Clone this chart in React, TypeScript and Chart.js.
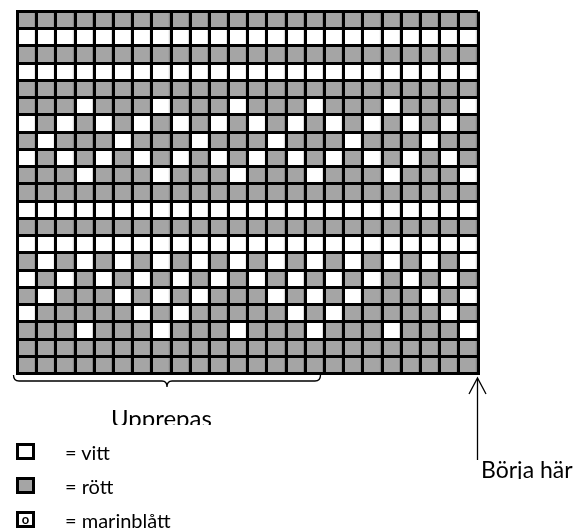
import React, { useEffect, useRef } from "react";
import { Chart, registerables } from "chart.js";

Chart.register(...registerables);

// 24 stitches per row
const columns = [
  "1", "2", "3", "4", "5", "6", "7", "8", "9", "10", "11", "12",
  "13", "14", "15", "16", "17", "18", "19", "20", "21", "22", "23", "24",
];

// Rows from top to bottom. W = vitt, G = rött (grey in the chart)
const rowPatterns = [
  "GGGGGGGGGGGGGGGGGGGGGGGG",
  "WWWWWWWWWWWWWWWWWWWWWWWW",
  "GGGGGGGGGGGGGGGGGGGGGGGG",
  "WWWWWWWWWWWWWWWWWWWWWWWW",
  "GGGGGGGGGGGGGGGGGGGGGGGG",
  "GGGWGGGWGGGWGGGWGGGWGGGW",
  "WGWGWGWGWGWGWGWGWGWGWGWG",
  "GWGGGWGGGWGGGWGGGWGGGWGG",
  "WGWGWGWGWGWGWGWGWGWGWGWG",
  "GGGWGGGWGGGWGGGWGGGWGGGW",
  "GGGGGGGGGGGGGGGGGGGGGGGG",
  "WWWWWWWWWWWWWWWWWWWWWWWW",
  "GGGGGGGGGGGGGGGGGGGGGGGG",
  "WWWWWWWWWWWWWWWWWWWWWWWW",
  "GWGWGWGWGWGWGWGWGWGWGWGW",
  "WGWGWGWGWGWGWGWGWGWGWGWG",
  "GWGGGWGWGWGGGWGWGWGGGWGW",
  "WGGGGGWGWGGGGGWGWGGGGGWG",
  "GGGWGGGWGGGWGGGWGGGWGGGW",
  "GGGGGGGGGGGGGGGGGGGGGGGG",
  "GGGGGGGGGGGGGGGGGGGGGGGG",
];

const cellColors: Record<string, string> = { W: "#ffffff", G: "#a5a5a5" };
const cellEdgeColors: Record<string, string> = { W: "#d6d6d6", G: "#858585" };

const legendItems = [
  { swatch: "W", mark: "", label: "= vitt" },
  { swatch: "G", mark: "", label: "= rött" },
  { swatch: "W", mark: "o", label: "= marinblått" },
];
const repeatLabel = "Upprepas";
const startLabel = "Börja här";

const FONT = "Lato, 'Open Sans', sans-serif";

export default function App() {
  const canvasRef = useRef<HTMLCanvasElement | null>(null);

  useEffect(() => {
    const canvas = canvasRef.current;
    if (!canvas) return;
    const datasets = rowPatterns.map((pattern, i) => {
      const cells = pattern.split("");
      return {
        label: `Rad ${i + 1}`,
        data: columns.map(() => 1),
        backgroundColor: cells.map((c) => cellColors[c]),
        borderColor: cells.map((c) => cellEdgeColors[c]),
        borderWidth: { top: 0, right: 2.6, bottom: 0, left: 0 },
        borderSkipped: false as const,
        barPercentage: 1,
        categoryPercentage: 1,
      };
    });
    const chart = new Chart(canvas, {
      type: "bar",
      data: { labels: columns, datasets },
      options: {
        responsive: false,
        animation: false,
        devicePixelRatio: 1,
        layout: { padding: { left: 17.5, top: 11.5, right: 101, bottom: 157.5 } },
        plugins: { legend: { display: false }, tooltip: { enabled: false } },
        scales: {
          x: {
            type: "category",
            stacked: true,
            offset: true,
            grid: { offset: true, color: "#000", lineWidth: 3, drawTicks: false, z: 1 },
            border: { display: true, color: "#000", width: 3, z: 1 },
            ticks: { display: false, autoSkip: false },
          },
          y: {
            type: "linear",
            stacked: true,
            reverse: true,
            min: 0,
            max: rowPatterns.length,
            grid: { color: "#000", lineWidth: 3, drawTicks: false, z: 1 },
            border: { display: true, color: "#000", width: 3, z: 1 },
            ticks: { display: false, stepSize: 1, maxTicksLimit: 40 },
          },
        },
      },
    });
    return () => chart.destroy();
  }, []);

  return (
    <div
      style={{
        position: "absolute",
        left: 0,
        top: 0,
        width: 579,
        height: 531,
        overflow: "hidden",
        background: "#fff",
        fontFamily: FONT,
        color: "#000",
      }}
    >
      <canvas ref={canvasRef} width={579} height={531} style={{ position: "absolute", left: 0, top: 0 }} />
      <svg
        width={579}
        height={531}
        style={{ position: "absolute", left: 0, top: 0, pointerEvents: "none" }}
      >
        <path
          d="M13.5,375 Q13.5,381 19,381 L162,381 Q167,381 167,387 Q167,381 172,381 L315,381 Q320.5,381 320.5,375"
          fill="none"
          stroke="#000"
          strokeWidth={1.3}
        />
        <line x1={477.5} y1={379} x2={477.5} y2={460} stroke="#000" strokeWidth={1.3} />
        <polyline points="469,394 477.5,378 486,394" fill="none" stroke="#000" strokeWidth={1.3} />
      </svg>
      <div
        style={{
          position: "absolute",
          left: 111,
          top: 405,
          height: 20,
          overflow: "hidden",
          whiteSpace: "nowrap",
        }}
      >
        <div style={{ fontSize: 24, lineHeight: "29px", marginTop: -2.5 }}>{repeatLabel}</div>
      </div>
      <div
        style={{
          position: "absolute",
          left: 481,
          top: 456,
          height: 22.5,
          overflow: "hidden",
          whiteSpace: "nowrap",
        }}
      >
        <div style={{ fontSize: 23, lineHeight: "28px", marginTop: -0.7 }}>{startLabel}</div>
      </div>
      {legendItems.map((item, i) => (
        <React.Fragment key={item.label}>
          <div
            style={{
              position: "absolute",
              left: 16,
              top: 443 + i * 34,
              width: 13,
              height: 11,
              border: "3px solid #000",
              background: cellColors[item.swatch],
              fontSize: 13,
              lineHeight: "11px",
              textAlign: "center",
              fontWeight: "bold",
            }}
          >
            {item.mark}
          </div>
          <div
            style={{
              position: "absolute",
              left: 65,
              top: 440 + i * 34,
              fontSize: 20,
              lineHeight: "24px",
              whiteSpace: "nowrap",
            }}
          >
            {item.label}
          </div>
        </React.Fragment>
      ))}
    </div>
  );
}
